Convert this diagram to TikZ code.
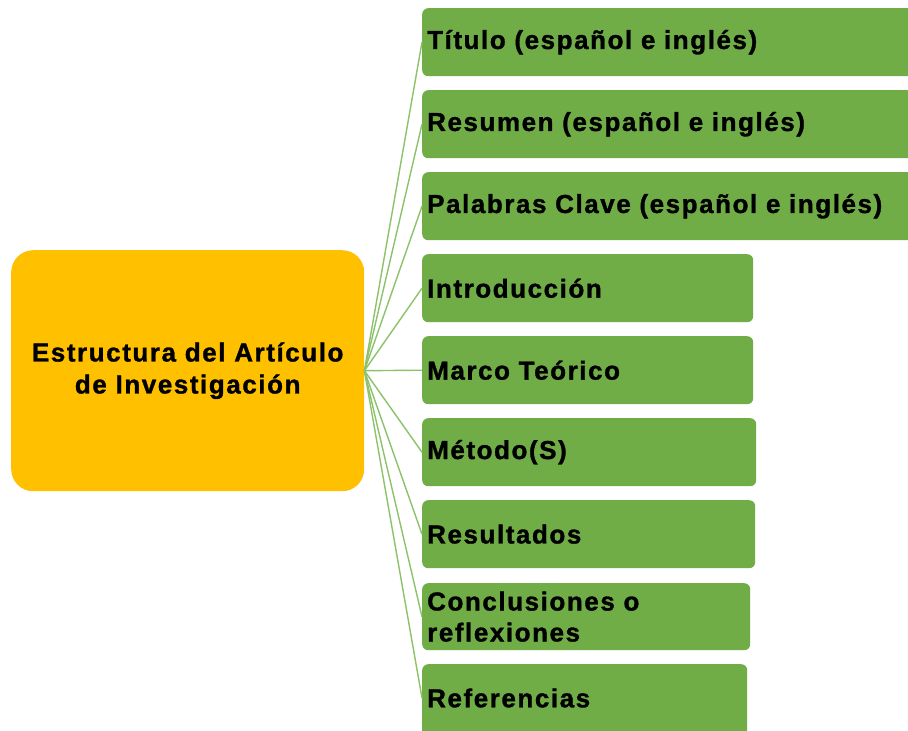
\documentclass[tikz,border=0pt]{standalone}
\usepackage{fontspec}
\setmainfont{Liberation Sans}[LetterSpace=6, BoldFeatures={FakeBold=1.2}]
\definecolor{hubyellow}{HTML}{FFC000}
\definecolor{itemgreen}{HTML}{70AD47}
\definecolor{linkgreen}{HTML}{8CC26A}

\begin{document}
\begin{tikzpicture}[x=1pt, y=-1pt,
    hub/.style={fill=hubyellow, rounded corners=22pt, anchor=north west,
        minimum width=353pt, minimum height=241pt, align=center,
        font=\fontsize{26}{32}\selectfont\bfseries},
    item/.style={fill=itemgreen, rounded corners=6pt, anchor=north west,
        minimum height=68pt, inner xsep=5pt, align=left,
        font=\fontsize{26}{31}\selectfont\bfseries},
    link/.style={linkgreen, line width=1.4pt}]

    \useasboundingbox (0,0) rectangle (908,731);
    \clip (0,0) rectangle (908,731);
    \fill[white] (0,0) rectangle (908,731);

    \node[hub] (est) at (11,250) {Estructura del Artículo\\de Investigación};

    \node[item, text width=490pt] (tit) at (422,8)   {Título (español e inglés)};
    \node[item, text width=490pt] (res) at (422,90)  {Resumen (español e inglés)};
    \node[item, text width=490pt] (pal) at (422,172) {Palabras Clave (español e inglés)};
    \node[item, text width=321pt] (int) at (422,254) {Introducción};
    \node[item, text width=321pt] (mar) at (422,336) {Marco Teórico};
    \node[item, text width=324pt] (met) at (422,418) {Método(S)};
    \node[item, text width=323pt] (resu) at (422,500) {Resultados};
    \node[item, text width=318pt, minimum height=67pt] (con) at (422,583) {Conclusiones o\\reflexiones};
    \node[item, text width=315pt, minimum height=80pt] (ref) at (422,664) {};
    \node[anchor=west, inner xsep=5pt, font=\fontsize{26}{31}\selectfont\bfseries] (reft) at (ref.west |- 0,698) {Referencias};

    \foreach \n in {tit,res,pal,int,mar,met,resu,con}
        \draw[link] (est.east) -- (\n.west);
    \draw[link] (est.east) -- (reft.west);

\end{tikzpicture}
\end{document}
